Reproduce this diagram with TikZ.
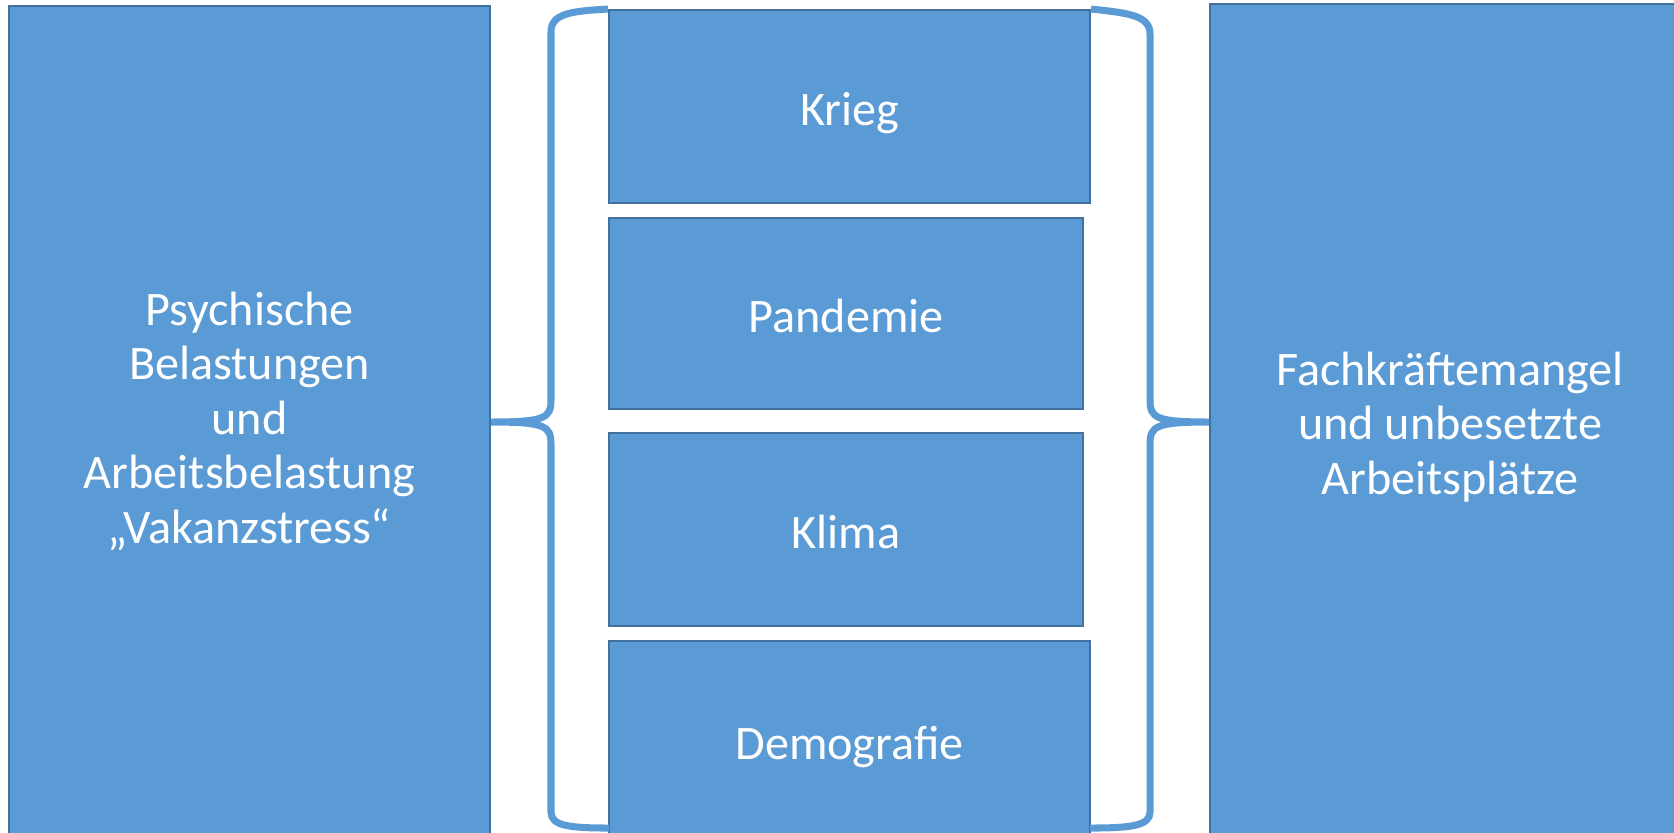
\documentclass[tikz,border=0pt]{standalone}
\usepackage{fontspec}
\setmainfont{Carlito}
\definecolor{boxblue}{HTML}{5B9BD5}
\definecolor{boxline}{HTML}{41719C}
\tikzset{
  box/.style={draw=boxline, line width=0.5pt, fill=boxblue, text=white,
    align=center, font=\fontsize{13.7}{15.5}\selectfont, inner sep=0pt},
  cause/.style={box, text height=12pt, text depth=1.4pt},
  bracket/.style={draw=boxblue, line width=2pt}
}
\begin{document}
\begin{tikzpicture}[x=0.01cm, y=-0.01cm]
  \useasboundingbox (0,0) rectangle (1674,832);

  % left and right columns
  \node[box, minimum width=4.81cm, minimum height=8.30cm] (belastung) at (249.5,421)
    {Psychische\\Belastungen\\und\\Arbeitsbelastung\\„Vakanzstress“};
  \node[box, minimum width=4.80cm, minimum height=8.45cm] (mangel) at (1450,427)
    {Fachkräftemangel\\ und unbesetzte\\Arbeitsplätze};

  % causes in the middle
  \node[cause, minimum width=4.81cm, minimum height=1.93cm] (krieg) at (849.5,106.5) {Krieg};
  \node[cause, minimum width=4.74cm, minimum height=1.91cm] (pandemie) at (846,313.5) {Pandemie};
  \node[cause, minimum width=4.74cm, minimum height=1.93cm] (klima) at (846,529.5) {Klima};
  \node[cause, minimum width=4.81cm, minimum height=1.99cm] (demografie) at (849.5,740.5) {Demografie};

  % braces
  \draw[bracket] (krieg.north west) .. controls (570,11) and (551,14) .. (551,32)
    -- (551,400) .. controls (551,418) and (545,422) .. (belastung.east |- 0,422)
    .. controls (545,422) and (551,426) .. (551,444)
    -- (551,812) .. controls (551,826) and (570,828) .. (609,828);
  \draw[bracket] (krieg.north east) .. controls (1130,13) and (1150,16) .. (1150,34)
    -- (1150,400) .. controls (1150,418) and (1156,422) .. (mangel.west |- 0,422)
    .. controls (1156,422) and (1150,426) .. (1150,444)
    -- (1150,812) .. controls (1150,826) and (1130,828) .. (1090,828);
\end{tikzpicture}
\end{document}
